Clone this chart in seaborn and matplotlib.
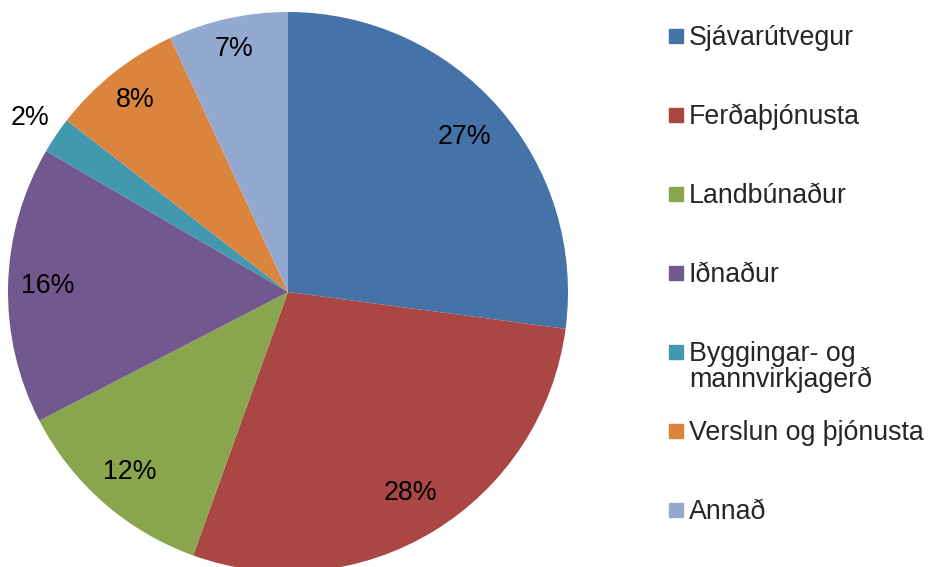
import numpy as np
import matplotlib
matplotlib.use("Agg")
import matplotlib.pyplot as plt
import matplotlib.patches as mpatches
import seaborn as sns

# share by sector (%)
sectors = ["Sjávarútvegur", "Ferðaþjónusta", "Landbúnaður", "Iðnaður",
           "Byggingar- og\nmannvirkjagerð", "Verslun og þjónusta", "Annað"]
shares = [27.1, 28.4, 11.9, 16.0, 2.1, 7.6, 6.9]
colors = ["#4572A7", "#AA4643", "#89A54E", "#71588F", "#4198AF", "#DB843D", "#93A9CF"]
# where each % label sits, as a fraction of the radius (Excel "best fit")
label_r = [0.84, 0.84, 0.855, 0.86, 1.11, 0.877, 0.89]

sns.set_theme(style="white")
plt.rcParams["font.family"] = ["Liberation Sans", "DejaVu Sans"]
FS = 19.3

fig = plt.figure(figsize=(9.29, 5.67), dpi=100)
ax = fig.add_axes([8 / 929, -5 / 567, 560 / 929, 560 / 567])

wedges, texts, pcts = ax.pie(shares, colors=colors, startangle=90, counterclock=False,
                             autopct="%.0f%%", pctdistance=0.85,
                             wedgeprops=dict(linewidth=0),
                             textprops=dict(fontsize=FS, color="black"))
ax.set_xlim(-1, 1)
ax.set_ylim(-1, 1)
ax.axis("off")

for w, t, r in zip(wedges, pcts, label_r):
    ang = np.deg2rad((w.theta1 + w.theta2) / 2)
    t.set_position((r * np.cos(ang), r * np.sin(ang)))

# legend laid out like the Excel one: fixed slots, text hanging from the top
x0, y0, step = 669, 36, 79
for i, (lab, c) in enumerate(zip(sectors, colors)):
    yc = y0 + i * step
    fig.patches.append(mpatches.Rectangle((x0 / 929, 1 - (yc + 7) / 567), 14 / 929, 14 / 567,
                                          transform=fig.transFigure, color=c))
    fig.text(689 / 929, 1 - (yc - 11) / 567, lab, fontsize=FS, va="top", ha="left",
             linespacing=1.0)

fig.savefig("out.png", dpi=100)
